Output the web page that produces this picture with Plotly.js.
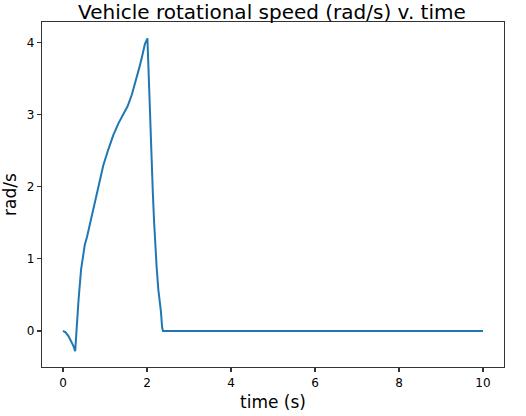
<!DOCTYPE html>
<html>
<head>
<meta charset="utf-8">
<script src="https://cdn.plot.ly/plotly-3.0.1.min.js"></script>
<style>html,body{margin:0;padding:0;background:#fff;}#chart{width:526px;height:416px;}</style>
</head>
<body>
<div id="chart"></div>
<script>
const time = [0, 0.06, 0.13, 0.2, 0.25, 0.29, 0.33, 0.37, 0.43, 0.48, 0.52, 0.57, 0.61, 0.69, 0.77, 0.85, 0.96, 1.08, 1.2, 1.32, 1.44, 1.54, 1.64, 1.7, 1.76, 1.82, 1.88, 1.95, 2.01, 2.04, 2.07, 2.1, 2.14, 2.17, 2.19, 2.23, 2.27, 2.31, 2.33, 2.36, 2.38, 3, 4, 5, 6, 7, 8, 9, 10];
const speed = [0, -0.02, -0.07, -0.14, -0.21, -0.28, 0.1, 0.43, 0.85, 1.08, 1.2, 1.3, 1.4, 1.6, 1.8, 2.0, 2.3, 2.52, 2.72, 2.88, 3.0, 3.12, 3.28, 3.4, 3.53, 3.66, 3.8, 3.98, 4.06, 3.5, 3.0, 2.45, 1.9, 1.5, 1.26, 0.88, 0.57, 0.39, 0.28, 0.05, 0, 0, 0, 0, 0, 0, 0, 0, 0];
const titleText = "Vehicle rotational speed (rad/s) v. time";
const xLabel = "time (s)";
const yLabel = "rad/s";
const xTicks = [0, 2, 4, 6, 8, 10];
const yTicks = [0, 1, 2, 3, 4];

const trace = {
  x: time, y: speed, type: 'scatter', mode: 'lines',
  line: {color: '#1f77b4', width: 2},
  hoverinfo: 'skip'
};
const axisCommon = {
  showgrid: false, zeroline: false, showline: true, mirror: true,
  linecolor: '#333', linewidth: 1.2,
  ticks: 'outside', ticklen: 4, tickwidth: 1.2, tickcolor: '#333',
  tickfont: {family: 'DejaVu Sans', size: 12, color: '#000'}
};
const layout = {
  width: 526, height: 416,
  margin: {l: 42, r: 22, t: 22, b: 49},
  paper_bgcolor: '#fff', plot_bgcolor: '#fff',
  showlegend: false,
  title: {text: titleText, font: {family: 'DejaVu Sans', size: 20, color: '#000'},
          x: 0.517, xanchor: 'center', y: 1, yref: 'paper', yanchor: 'bottom', pad: {b: 3}},
  xaxis: Object.assign({}, axisCommon, {
    range: [-0.5, 10.5], tickvals: xTicks, ticktext: xTicks.map(String),
    title: {text: xLabel, font: {family: 'DejaVu Sans', size: 17, color: '#000'}, standoff: 7}
  }),
  yaxis: Object.assign({}, axisCommon, {
    range: [-0.5, 4.286], tickvals: yTicks, ticktext: yTicks.map(String),
    title: {text: yLabel, font: {family: 'DejaVu Sans', size: 17, color: '#000'}, standoff: 7}
  })
};
Plotly.newPlot('chart', [trace], layout, {displayModeBar: false, staticPlot: true});
</script>
</body>
</html>
